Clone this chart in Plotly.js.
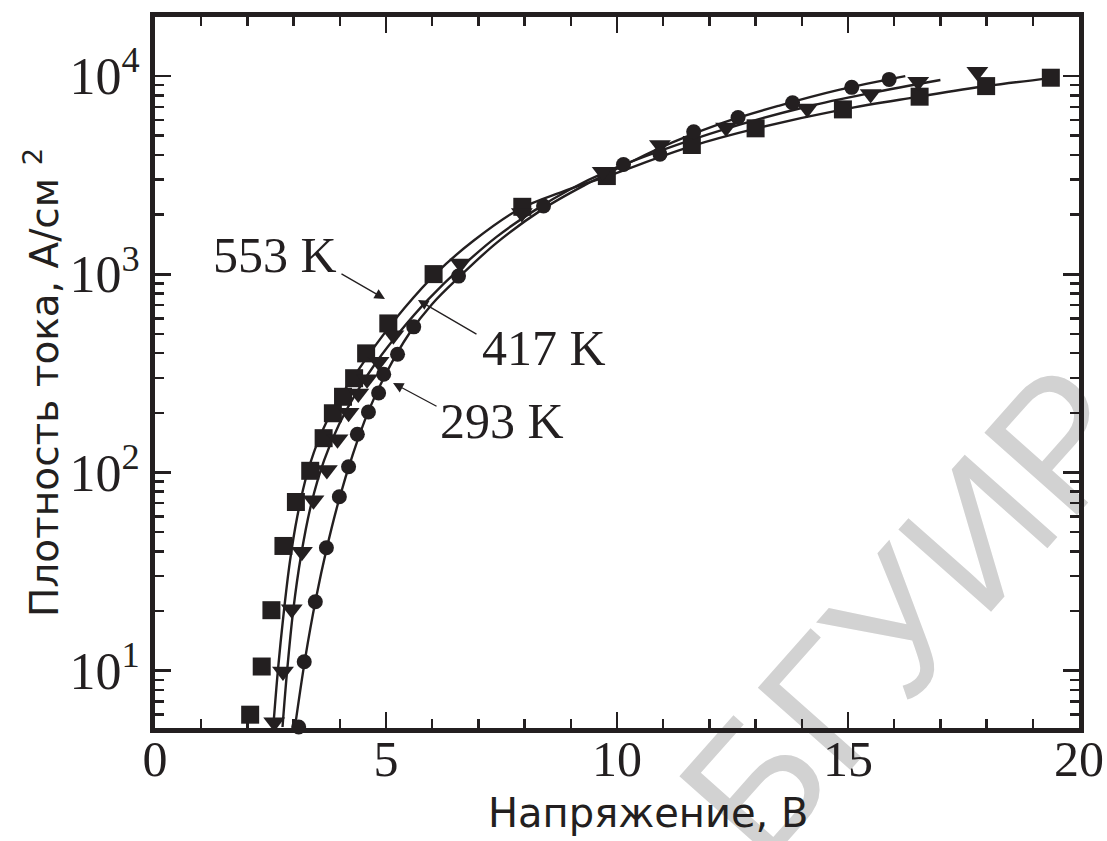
<!DOCTYPE html>
<html>
<head>
<meta charset="utf-8">
<script src="https://cdn.plot.ly/plotly-3.0.1.min.js"></script>
<style>
  html, body { margin: 0; padding: 0; background: #ffffff; }
  #chart { width: 1107px; height: 841px; }
</style>
</head>
<body>
<div id="chart"></div>
<script>
// Current density vs. voltage at three temperatures (log scale)

// Measured points, 553 K (squares)
const v553 = [2.06, 2.31, 2.52, 2.78, 3.05, 3.36, 3.65, 3.85, 4.07, 4.31, 4.57, 5.05, 6.03, 7.95, 9.78, 11.62, 13.00, 14.89, 16.55, 17.99, 19.39];
const j553 = [6.0, 10.5, 20.2, 42.6, 71, 102, 149, 199, 241, 299, 399, 565, 1002, 2190, 3130, 4490, 5450, 6790, 7870, 8900, 9810];

// Measured points, 417 K (down triangles)
const v417 = [2.58, 2.77, 2.96, 3.18, 3.43, 3.72, 3.95, 4.19, 4.40, 4.59, 4.84, 5.16, 6.61, 7.94, 9.69, 10.93, 12.36, 14.12, 15.49, 16.52, 17.80];
const j417 = [5.5, 9.9, 20.4, 39.8, 72.5, 103, 147, 200, 250, 295, 362, 493, 1135, 2040, 3290, 4490, 5510, 6870, 8120, 9360, 10500];

// Measured points, 293 K (circles)
const v293 = [3.11, 3.23, 3.47, 3.71, 3.99, 4.19, 4.38, 4.62, 4.84, 4.95, 5.25, 5.60, 6.57, 8.41, 10.14, 10.93, 11.66, 12.62, 13.80, 15.08, 15.89];
const j293 = [5.2, 11.1, 22.3, 41.7, 75.4, 107, 156, 202, 252, 313, 395, 543, 979, 2210, 3580, 4030, 5240, 6180, 7340, 8770, 9620];

// Fitted curves
const fitV553 = [2.56, 2.66, 2.78, 2.92, 3.08, 3.30, 3.60, 3.95, 4.35, 4.80, 5.40, 6.10, 6.90, 7.90, 8.80, 9.80, 11.60, 13.00, 14.90, 16.50, 18.00, 19.40];
const fitJ553 = [5.2, 10, 19, 35.5, 60, 100, 158, 229, 316, 447, 676, 1020, 1480, 2140, 2600, 3130, 4420, 5430, 6790, 7850, 8910, 9770];

const fitV417 = [2.76, 2.86, 2.99, 3.16, 3.38, 3.66, 3.98, 4.35, 4.80, 5.30, 5.90, 6.60, 7.40, 8.20, 9.00, 9.80, 10.90, 12.30, 14.10, 15.50, 17.00];
const fitJ417 = [5.2, 10, 20, 38, 69, 115, 174, 251, 363, 513, 741, 1072, 1549, 2089, 2692, 3311, 4169, 5370, 7000, 8222, 9550];

const fitV293 = [3.03, 3.25, 3.48, 3.72, 3.98, 4.28, 4.62, 5.00, 5.50, 6.00, 6.60, 7.40, 8.40, 9.30, 10.20, 11.20, 12.30, 13.50, 14.80, 16.24];
const fitJ293 = [5.2, 11.5, 22.9, 41.7, 72.4, 123, 204, 316, 501, 708, 977, 1445, 2138, 2818, 3589, 4624, 5821, 7079, 8511, 10000];

// Axis ticks and labels
const yTickVals = [10, 100, 1000, 10000];
const yTickText = ['10<sup>1</sup>', '10<sup>2</sup>', '10<sup>3</sup>', '10<sup>4</sup>'];
const tempLabels = ['553 K', '417 K', '293 K'];

const INK = '#231f20';

// minor log ticks 2..9 in every decade
const yMinor = [];
for (let d = 1; d <= 1000; d *= 10) {
  for (let m = 2; m <= 9; m++) yMinor.push(m * d);
}

function fitTrace(x, y) {
  return {
    x: x, y: y, type: 'scatter', mode: 'lines',
    line: { color: INK, width: 2.4, shape: 'spline', smoothing: 1 },
    hoverinfo: 'skip', showlegend: false
  };
}
function pointTrace(x, y, symbol, size) {
  return {
    x: x, y: y, type: 'scatter', mode: 'markers', cliponaxis: false,
    marker: { symbol: symbol, size: size, color: INK, line: { width: 0 } },
    hoverinfo: 'skip', showlegend: false
  };
}

const data = [
  fitTrace(fitV553, fitJ553),
  fitTrace(fitV417, fitJ417),
  fitTrace(fitV293, fitJ293),
  pointTrace(v553, j553, 'square', 18),
  pointTrace(v417, j417, 'triangle-down', 19),
  pointTrace(v293, j293, 'circle', 15)
];

const serif = 'Liberation Serif, Times New Roman, serif';
const sans = 'DejaVu Sans, Liberation Sans, Arial, sans-serif';

function arrow(x, y, ax, ay) {
  return {
    xref: 'paper', yref: 'paper', x: x, y: y, ax: ax, ay: ay, text: '',
    showarrow: true, arrowhead: 2, arrowsize: 1.6, arrowwidth: 1.3, arrowcolor: INK
  };
}
function label(text, x, y) {
  return {
    xref: 'paper', yref: 'paper', x: x, y: y, text: text, showarrow: false,
    xanchor: 'center', yanchor: 'middle',
    font: { family: serif, size: 50, color: INK }
  };
}

const layout = {
  width: 1107, height: 841,
  margin: { l: 155, r: 28, t: 17, b: 113 },
  paper_bgcolor: '#ffffff', plot_bgcolor: '#ffffff',
  showlegend: false,
  xaxis: {
    range: [0, 20], tickmode: 'linear', tick0: 0, dtick: 5,
    ticks: 'inside', ticklen: 16, tickwidth: 2.5, tickcolor: INK,
    minor: { tickmode: 'linear', tick0: 0, dtick: 1, ticks: 'inside', ticklen: 9, tickwidth: 2.5, tickcolor: INK, showgrid: false },
    showline: true, linewidth: 5, linecolor: INK, mirror: 'ticks',
    showgrid: false, zeroline: false,
    ticklabelstandoff: -17,
    tickfont: { family: serif, size: 50, color: INK }
  },
  yaxis: {
    type: 'log', range: [0.711, 4.298],
    tickmode: 'array', tickvals: yTickVals, ticktext: yTickText,
    ticks: 'inside', ticklen: 16, tickwidth: 2.5, tickcolor: INK,
    minor: { tickmode: 'array', tickvals: yMinor, ticks: 'inside', ticklen: 9, tickwidth: 2.5, tickcolor: INK, showgrid: false },
    showline: true, linewidth: 5, linecolor: INK, mirror: 'ticks',
    showgrid: false, zeroline: false,
    tickfont: { family: serif, size: 52, color: INK }
  },
  annotations: [
    {
      xref: 'paper', yref: 'paper', x: 0.5335, y: -0.1195,
      text: 'Напряжение, В', showarrow: false, xanchor: 'center', yanchor: 'middle',
      font: { family: sans, size: 40, color: INK }
    },
    {
      xref: 'paper', yref: 'paper', x: -0.1223, y: 0.4866, textangle: -90,
      text: 'Плотность тока, А/см <sup>2</sup>', showarrow: false, xanchor: 'center', yanchor: 'middle',
      font: { family: sans, size: 39, color: INK }
    },
    label(tempLabels[0], 0.1299, 0.665),
    label(tempLabels[1], 0.421, 0.5345),
    label(tempLabels[2], 0.3755, 0.4318),
    arrow(0.2489, 0.6034, -45, -26),
    arrow(0.2846, 0.602, 60, 35),
    arrow(0.2576, 0.4852, 45, 24)
  ],
  shapes: [
    {
      type: 'line', xref: 'paper', yref: 'paper', layer: 'below',
      x0: 0.59, y0: -0.129, x1: 1.012, y1: 0.489,
      line: { color: 'rgba(0,0,0,0)', width: 0 },
      label: {
        text: 'БГУИР', textposition: 'middle', textangle: 'auto', yanchor: 'middle',
        font: { family: 'Liberation Sans, Arial, sans-serif', size: 180, color: '#d2d2d2' }
      }
    }
  ]
};

Plotly.newPlot('chart', data, layout, { staticPlot: true, displayModeBar: false });
</script>
</body>
</html>
